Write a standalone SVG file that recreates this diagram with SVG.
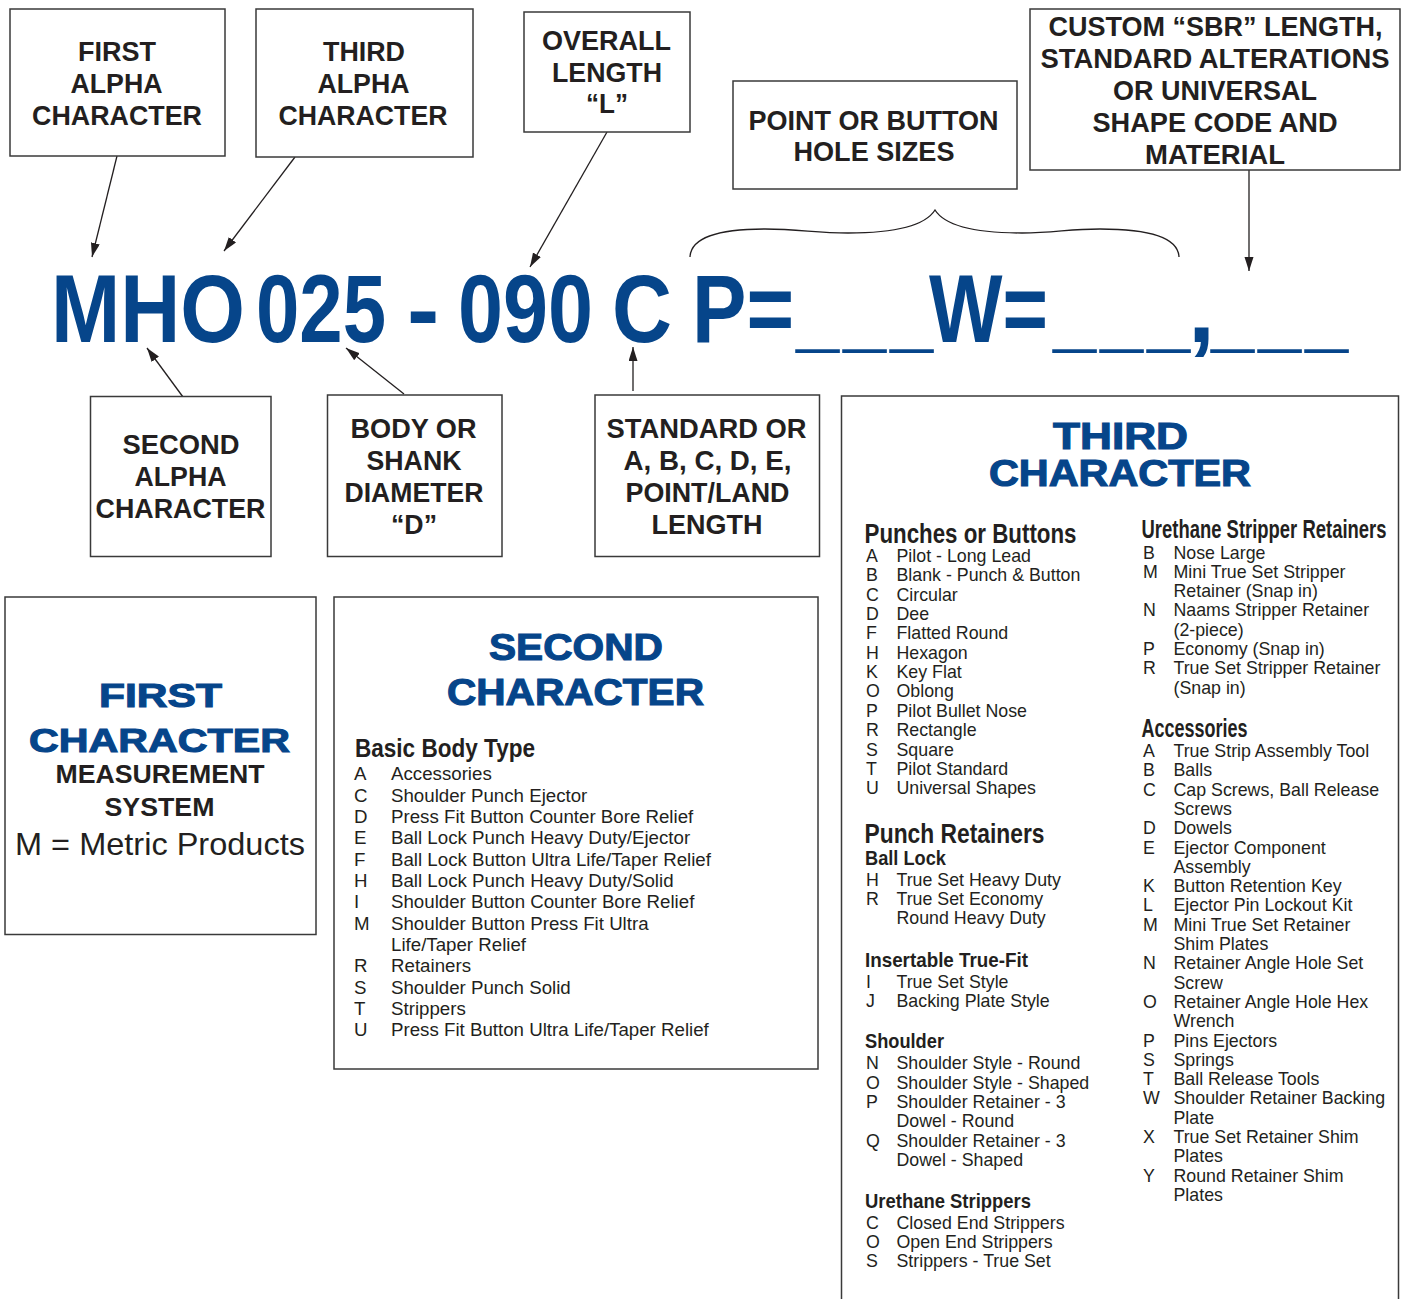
<svg xmlns="http://www.w3.org/2000/svg" width="1401" height="1299" viewBox="0 0 1401 1299">
<defs>
<style>
.box{fill:#fff;stroke:#3a3a3a;stroke-width:1.5}
.lbl{font-family:"Liberation Sans",Arial,sans-serif;font-weight:bold;font-size:27px;fill:#231f20}
.code{font-family:"Liberation Sans",Arial,sans-serif;font-weight:bold;font-size:97px;fill:#06458a}
.title{font-family:"Liberation Sans",Arial,sans-serif;font-weight:bold;fill:#06458a;stroke:#06458a;stroke-width:1.1}
.sub{font-family:"Liberation Sans",Arial,sans-serif;font-weight:bold;fill:#231f20}
.it2{font-family:"Liberation Sans",Arial,sans-serif;font-size:18.7px;fill:#231f20}
.it3{font-family:"Liberation Sans",Arial,sans-serif;font-size:17.8px;fill:#231f20}
.con{fill:none;stroke:#231f20;stroke-width:1.3}
</style>
<marker id="ah" markerUnits="userSpaceOnUse" markerWidth="15" markerHeight="10" refX="14" refY="4.5" orient="auto">
<path d="M0,0 L14,4.5 L0,9 Z" fill="#231f20"/>
</marker>
</defs>
<rect width="1401" height="1299" fill="#fff"/>

<g id="connectors">
<line class="con" x1="117" y1="156" x2="92" y2="257" marker-end="url(#ah)"/>
<line class="con" x1="295" y1="157" x2="224" y2="251" marker-end="url(#ah)"/>
<line class="con" x1="607" y1="132" x2="530" y2="267" marker-end="url(#ah)"/>
<line class="con" x1="1249" y1="170" x2="1249" y2="271" marker-end="url(#ah)"/>
<line class="con" x1="183" y1="397" x2="147" y2="348" marker-end="url(#ah)"/>
<line class="con" x1="404" y1="394" x2="346" y2="348" marker-end="url(#ah)"/>
<line class="con" x1="633" y1="391" x2="633" y2="347" marker-end="url(#ah)"/>
<path class="con" d="M690,257 C691,236 722,229 765,229 C800,229 815,233 848,233 C895,233 925,226 935,210 C945,226 975,233 1022,233 C1055,233 1068,229 1100,229 C1145,229 1178,236 1179,257"/>
</g>

<g id="n-first-alpha">
<rect class="box" x="10" y="9" width="215" height="147"/>
<text class="lbl" x="78" y="61" textLength="78" lengthAdjust="spacingAndGlyphs">FIRST</text>
<text class="lbl" x="70.5" y="93" textLength="92" lengthAdjust="spacingAndGlyphs">ALPHA</text>
<text class="lbl" x="32" y="125" textLength="170" lengthAdjust="spacingAndGlyphs">CHARACTER</text>
</g>
<g id="n-third-alpha">
<rect class="box" x="256" y="9" width="217" height="148"/>
<text class="lbl" x="323" y="61" textLength="82" lengthAdjust="spacingAndGlyphs">THIRD</text>
<text class="lbl" x="317.5" y="93" textLength="92" lengthAdjust="spacingAndGlyphs">ALPHA</text>
<text class="lbl" x="278.5" y="125" textLength="169" lengthAdjust="spacingAndGlyphs">CHARACTER</text>
</g>
<g id="n-overall">
<rect class="box" x="524" y="12" width="166" height="120"/>
<text class="lbl" x="542" y="50" textLength="129" lengthAdjust="spacingAndGlyphs">OVERALL</text>
<text class="lbl" x="552" y="82" textLength="110" lengthAdjust="spacingAndGlyphs">LENGTH</text>
<text class="lbl" x="586" y="113" textLength="42" lengthAdjust="spacingAndGlyphs">“L”</text>
</g>
<g id="n-point">
<rect class="box" x="733" y="81" width="284" height="108"/>
<text class="lbl" x="748.5" y="129.5" textLength="250" lengthAdjust="spacingAndGlyphs">POINT OR BUTTON</text>
<text class="lbl" x="793.5" y="161" textLength="161" lengthAdjust="spacingAndGlyphs">HOLE SIZES</text>
</g>
<g id="n-custom">
<rect class="box" x="1030" y="9" width="370" height="161"/>
<text class="lbl" x="1048.5" y="36" textLength="334" lengthAdjust="spacingAndGlyphs">CUSTOM “SBR” LENGTH,</text>
<text class="lbl" x="1040.5" y="68" textLength="349" lengthAdjust="spacingAndGlyphs">STANDARD ALTERATIONS</text>
<text class="lbl" x="1113" y="100" textLength="204" lengthAdjust="spacingAndGlyphs">OR UNIVERSAL</text>
<text class="lbl" x="1092.5" y="132" textLength="245" lengthAdjust="spacingAndGlyphs">SHAPE CODE AND</text>
<text class="lbl" x="1145" y="163.5" textLength="140" lengthAdjust="spacingAndGlyphs">MATERIAL</text>
</g>

<g id="code">
<text class="code" x="51" y="342" textLength="194" lengthAdjust="spacingAndGlyphs">MHO</text>
<text class="code" x="256" y="342" textLength="130" lengthAdjust="spacingAndGlyphs">025</text>
<text class="code" x="407" y="342">-</text>
<text class="code" x="458" y="342" textLength="135" lengthAdjust="spacingAndGlyphs">090</text>
<text class="code" x="612" y="342" textLength="60" lengthAdjust="spacingAndGlyphs">C</text>
<text class="code" x="692" y="342" textLength="102" lengthAdjust="spacingAndGlyphs">P=</text>
<text class="code" transform="translate(796,341) scale(0.8,1)" x="0 58.75 117.5" y="0" font-size="76">___</text>
<text class="code" x="929" y="342" textLength="119" lengthAdjust="spacingAndGlyphs">W=</text>
<text class="code" transform="translate(1053,341) scale(0.8,1)" x="0 58.75 117.5" y="0" font-size="76">___</text>
<text class="code" x="1188" y="342">,</text>
<text class="code" transform="translate(1211,341) scale(0.8,1)" x="0 58.75 117.5" y="0" font-size="76">___</text>
</g>

<g id="n-second-alpha">
<rect class="box" x="90.5" y="396.5" width="180.5" height="160"/>
<text class="lbl" x="122.5" y="454" textLength="117" lengthAdjust="spacingAndGlyphs">SECOND</text>
<text class="lbl" x="134.5" y="486" textLength="92" lengthAdjust="spacingAndGlyphs">ALPHA</text>
<text class="lbl" x="95.5" y="518" textLength="170" lengthAdjust="spacingAndGlyphs">CHARACTER</text>
</g>
<g id="n-body">
<rect class="box" x="327.5" y="395" width="174.5" height="161.5"/>
<text class="lbl" x="350.5" y="437.5" textLength="126" lengthAdjust="spacingAndGlyphs">BODY OR</text>
<text class="lbl" x="366.5" y="469.5" textLength="95" lengthAdjust="spacingAndGlyphs">SHANK</text>
<text class="lbl" x="344.5" y="501.5" textLength="139" lengthAdjust="spacingAndGlyphs">DIAMETER</text>
<text class="lbl" x="391" y="533.5" textLength="46" lengthAdjust="spacingAndGlyphs">“D”</text>
</g>
<g id="n-standard">
<rect class="box" x="595" y="395" width="224.5" height="161.5"/>
<text class="lbl" x="606.5" y="437.5" textLength="200" lengthAdjust="spacingAndGlyphs">STANDARD OR</text>
<text class="lbl" x="623.5" y="469.5" textLength="168" lengthAdjust="spacingAndGlyphs">A, B, C, D, E,</text>
<text class="lbl" x="625.5" y="501.5" textLength="164" lengthAdjust="spacingAndGlyphs">POINT/LAND</text>
<text class="lbl" x="651.5" y="533.5" textLength="111" lengthAdjust="spacingAndGlyphs">LENGTH</text>
</g>

<g id="p-first">
<rect class="box" x="5" y="597" width="311" height="337.5"/>
<text class="title" x="99" y="707" font-size="34" textLength="123" lengthAdjust="spacingAndGlyphs">FIRST</text>
<text class="title" x="29" y="752" font-size="34" textLength="261" lengthAdjust="spacingAndGlyphs">CHARACTER</text>
<text class="sub" x="55.5" y="783" font-size="25" textLength="209" lengthAdjust="spacingAndGlyphs">MEASUREMENT</text>
<text class="sub" x="104.5" y="816" font-size="25" textLength="110" lengthAdjust="spacingAndGlyphs">SYSTEM</text>
<text x="15" y="855" font-family="Liberation Sans, Arial, sans-serif" font-size="32" fill="#231f20" textLength="290" lengthAdjust="spacingAndGlyphs">M = Metric Products</text>
</g>

<g id="p-second">
<rect class="box" x="334" y="597" width="484" height="472"/>
<text class="title" x="489" y="660" font-size="37" textLength="174" lengthAdjust="spacingAndGlyphs">SECOND</text>
<text class="title" x="447" y="705" font-size="37" textLength="257" lengthAdjust="spacingAndGlyphs">CHARACTER</text>
<text class="sub" x="355" y="757" font-size="26" textLength="180" lengthAdjust="spacingAndGlyphs">Basic Body Type</text>
<g class="it2">
<text x="354" y="780.3">A</text><text x="391" y="780.3">Accessories</text>
<text x="354" y="801.6">C</text><text x="391" y="801.6">Shoulder Punch Ejector</text>
<text x="354" y="823">D</text><text x="391" y="823">Press Fit Button Counter Bore Relief</text>
<text x="354" y="844.3">E</text><text x="391" y="844.3">Ball Lock Punch Heavy Duty/Ejector</text>
<text x="354" y="865.6">F</text><text x="391" y="865.6">Ball Lock Button Ultra Life/Taper Relief</text>
<text x="354" y="887">H</text><text x="391" y="887">Ball Lock Punch Heavy Duty/Solid</text>
<text x="354" y="908.3">I</text><text x="391" y="908.3">Shoulder Button Counter Bore Relief</text>
<text x="354" y="929.6">M</text><text x="391" y="929.6">Shoulder Button Press Fit Ultra</text>
<text x="391" y="951">Life/Taper Relief</text>
<text x="354" y="972.3">R</text><text x="391" y="972.3">Retainers</text>
<text x="354" y="993.6">S</text><text x="391" y="993.6">Shoulder Punch Solid</text>
<text x="354" y="1015">T</text><text x="391" y="1015">Strippers</text>
<text x="354" y="1036.3">U</text><text x="391" y="1036.3">Press Fit Button Ultra Life/Taper Relief</text>
</g>
</g>

<g id="p-third">
<rect class="box" x="841.5" y="396" width="557" height="920"/>
<text class="title" x="1053" y="449" font-size="36" textLength="135" lengthAdjust="spacingAndGlyphs">THIRD</text>
<text class="title" x="989" y="486" font-size="36" textLength="262" lengthAdjust="spacingAndGlyphs">CHARACTER</text>

<text class="sub" x="864.5" y="543" font-size="27" textLength="212" lengthAdjust="spacingAndGlyphs">Punches or Buttons</text>
<g class="it3">
<text x="866" y="562">A</text><text x="896.5" y="562">Pilot - Long Lead</text>
<text x="866" y="581.4">B</text><text x="896.5" y="581.4">Blank - Punch &amp; Button</text>
<text x="866" y="600.7">C</text><text x="896.5" y="600.7">Circular</text>
<text x="866" y="620">D</text><text x="896.5" y="620">Dee</text>
<text x="866" y="639.4">F</text><text x="896.5" y="639.4">Flatted Round</text>
<text x="866" y="658.7">H</text><text x="896.5" y="658.7">Hexagon</text>
<text x="866" y="678.1">K</text><text x="896.5" y="678.1">Key Flat</text>
<text x="866" y="697.4">O</text><text x="896.5" y="697.4">Oblong</text>
<text x="866" y="716.8">P</text><text x="896.5" y="716.8">Pilot Bullet Nose</text>
<text x="866" y="736.1">R</text><text x="896.5" y="736.1">Rectangle</text>
<text x="866" y="755.5">S</text><text x="896.5" y="755.5">Square</text>
<text x="866" y="774.8">T</text><text x="896.5" y="774.8">Pilot Standard</text>
<text x="866" y="794.2">U</text><text x="896.5" y="794.2">Universal Shapes</text>
</g>

<text class="sub" x="864.5" y="843" font-size="27" textLength="180" lengthAdjust="spacingAndGlyphs">Punch Retainers</text>
<text class="sub" x="865" y="865" font-size="21" textLength="81" lengthAdjust="spacingAndGlyphs">Ball Lock</text>
<g class="it3">
<text x="866" y="885.5">H</text><text x="896.5" y="885.5">True Set Heavy Duty</text>
<text x="866" y="905">R</text><text x="896.5" y="905">True Set Economy</text>
<text x="896.5" y="924.3">Round Heavy Duty</text>
</g>
<text class="sub" x="865" y="967" font-size="21" textLength="163" lengthAdjust="spacingAndGlyphs">Insertable True-Fit</text>
<g class="it3">
<text x="866" y="987.5">I</text><text x="896.5" y="987.5">True Set Style</text>
<text x="866" y="1006.5">J</text><text x="896.5" y="1006.5">Backing Plate Style</text>
</g>
<text class="sub" x="865" y="1048" font-size="21" textLength="79" lengthAdjust="spacingAndGlyphs">Shoulder</text>
<g class="it3">
<text x="866" y="1069">N</text><text x="896.5" y="1069">Shoulder Style - Round</text>
<text x="866" y="1088.5">O</text><text x="896.5" y="1088.5">Shoulder Style - Shaped</text>
<text x="866" y="1107.8">P</text><text x="896.5" y="1107.8">Shoulder Retainer - 3</text>
<text x="896.5" y="1127.2">Dowel - Round</text>
<text x="866" y="1146.5">Q</text><text x="896.5" y="1146.5">Shoulder Retainer - 3</text>
<text x="896.5" y="1165.8">Dowel - Shaped</text>
</g>
<text class="sub" x="865" y="1208" font-size="21" textLength="166" lengthAdjust="spacingAndGlyphs">Urethane Strippers</text>
<g class="it3">
<text x="866" y="1228.5">C</text><text x="896.5" y="1228.5">Closed End Strippers</text>
<text x="866" y="1247.8">O</text><text x="896.5" y="1247.8">Open End Strippers</text>
<text x="866" y="1267.2">S</text><text x="896.5" y="1267.2">Strippers - True Set</text>
</g>

<text class="sub" x="1141.5" y="538" font-size="26" textLength="245" lengthAdjust="spacingAndGlyphs">Urethane Stripper Retainers</text>
<g class="it3">
<text x="1143" y="558.5">B</text><text x="1173.5" y="558.5">Nose Large</text>
<text x="1143" y="577.8">M</text><text x="1173.5" y="577.8">Mini True Set Stripper</text>
<text x="1173.5" y="597.1">Retainer (Snap in)</text>
<text x="1143" y="616.4">N</text><text x="1173.5" y="616.4">Naams Stripper Retainer</text>
<text x="1173.5" y="635.7">(2-piece)</text>
<text x="1143" y="655">P</text><text x="1173.5" y="655">Economy (Snap in)</text>
<text x="1143" y="674.3">R</text><text x="1173.5" y="674.3">True Set Stripper Retainer</text>
<text x="1173.5" y="693.6">(Snap in)</text>
</g>
<text class="sub" x="1141.5" y="737" font-size="26" textLength="106" lengthAdjust="spacingAndGlyphs">Accessories</text>
<g class="it3">
<text x="1143" y="757">A</text><text x="1173.5" y="757">True Strip Assembly Tool</text>
<text x="1143" y="776.3">B</text><text x="1173.5" y="776.3">Balls</text>
<text x="1143" y="795.6">C</text><text x="1173.5" y="795.6">Cap Screws, Ball Release</text>
<text x="1173.5" y="814.9">Screws</text>
<text x="1143" y="834.2">D</text><text x="1173.5" y="834.2">Dowels</text>
<text x="1143" y="853.5">E</text><text x="1173.5" y="853.5">Ejector Component</text>
<text x="1173.5" y="872.8">Assembly</text>
<text x="1143" y="892">K</text><text x="1173.5" y="892">Button Retention Key</text>
<text x="1143" y="911.3">L</text><text x="1173.5" y="911.3">Ejector Pin Lockout Kit</text>
<text x="1143" y="930.6">M</text><text x="1173.5" y="930.6">Mini True Set Retainer</text>
<text x="1173.5" y="949.9">Shim Plates</text>
<text x="1143" y="969.2">N</text><text x="1173.5" y="969.2">Retainer Angle Hole Set</text>
<text x="1173.5" y="988.5">Screw</text>
<text x="1143" y="1007.8">O</text><text x="1173.5" y="1007.8">Retainer Angle Hole Hex</text>
<text x="1173.5" y="1027.1">Wrench</text>
<text x="1143" y="1046.5">P</text><text x="1173.5" y="1046.5">Pins Ejectors</text>
<text x="1143" y="1065.8">S</text><text x="1173.5" y="1065.8">Springs</text>
<text x="1143" y="1085.1">T</text><text x="1173.5" y="1085.1">Ball Release Tools</text>
<text x="1143" y="1104.4">W</text><text x="1173.5" y="1104.4">Shoulder Retainer Backing</text>
<text x="1173.5" y="1123.7">Plate</text>
<text x="1143" y="1143">X</text><text x="1173.5" y="1143">True Set Retainer Shim</text>
<text x="1173.5" y="1162.3">Plates</text>
<text x="1143" y="1181.6">Y</text><text x="1173.5" y="1181.6">Round Retainer Shim</text>
<text x="1173.5" y="1200.9">Plates</text>
</g>
</g>
</svg>
